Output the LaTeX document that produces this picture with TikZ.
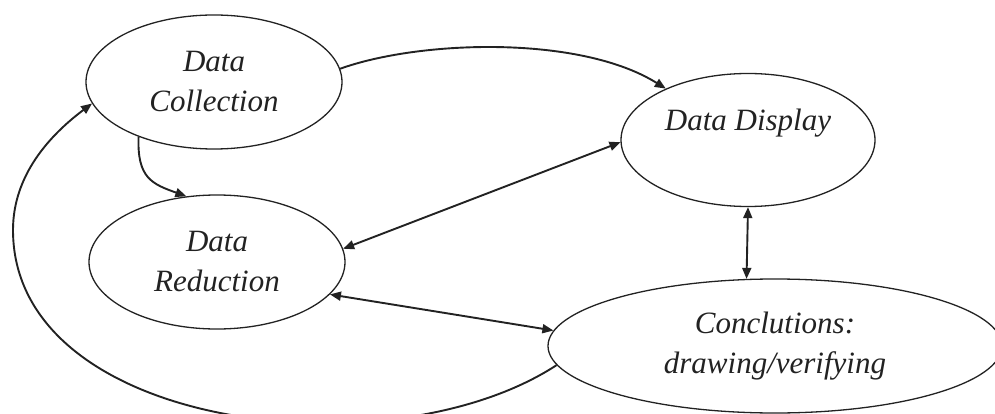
\documentclass[tikz,border=0pt]{standalone}
\usepackage{fontspec}
\setmainfont{Liberation Serif}
\usetikzlibrary{shapes.geometric,arrows.meta}
\definecolor{ink}{HTML}{222222}
\begin{document}
\begin{tikzpicture}[x=1pt,y=-1pt,
  bub/.style={draw=ink, line width=1.3pt, ellipse, inner sep=0pt, align=center,
    font=\itshape\fontsize{31}{40}\selectfont, text=ink},
  con/.style={draw=ink, line width=1.9pt, -{Triangle[length=11pt,width=9pt]}},
  bicon/.style={draw=ink, line width=1.9pt, {Triangle[length=11pt,width=9pt]}-{Triangle[length=11pt,width=9pt]}}]
\useasboundingbox (0,0) rectangle (995,414);
\node[bub, minimum width=256pt, minimum height=134pt] (dc) at (214,82) {Data\\Collection};
\node[bub, minimum width=256pt, minimum height=134pt] (dr) at (217,262) {Data\\Reduction};
\node[bub, minimum width=254pt, minimum height=133pt] (dd) at (748,140) {Data Display\\\mbox{}};
\node[bub, minimum width=454pt, minimum height=134pt] (cc) at (775,346) {Conclutions:\\drawing/verifying};
\coordinate (lm) at (13,230);
\draw[con] (dc.6) .. controls (420,40) and (580,35) .. (dd.148);
\draw[con] (dc.216) .. controls (137,178) and (152,184) .. (dr.115);
\draw[bicon] (dd.181) -- (dr.6);
\draw[bicon] (dd.south) -- (cc.113);
\draw[bicon] (dr.-16) -- (cc.176);
\draw[con] (cc.185) .. controls (390,474) and (13,430) .. (lm) .. controls (13,175) and (50,135) .. (dc.190);
\end{tikzpicture}
\end{document}
